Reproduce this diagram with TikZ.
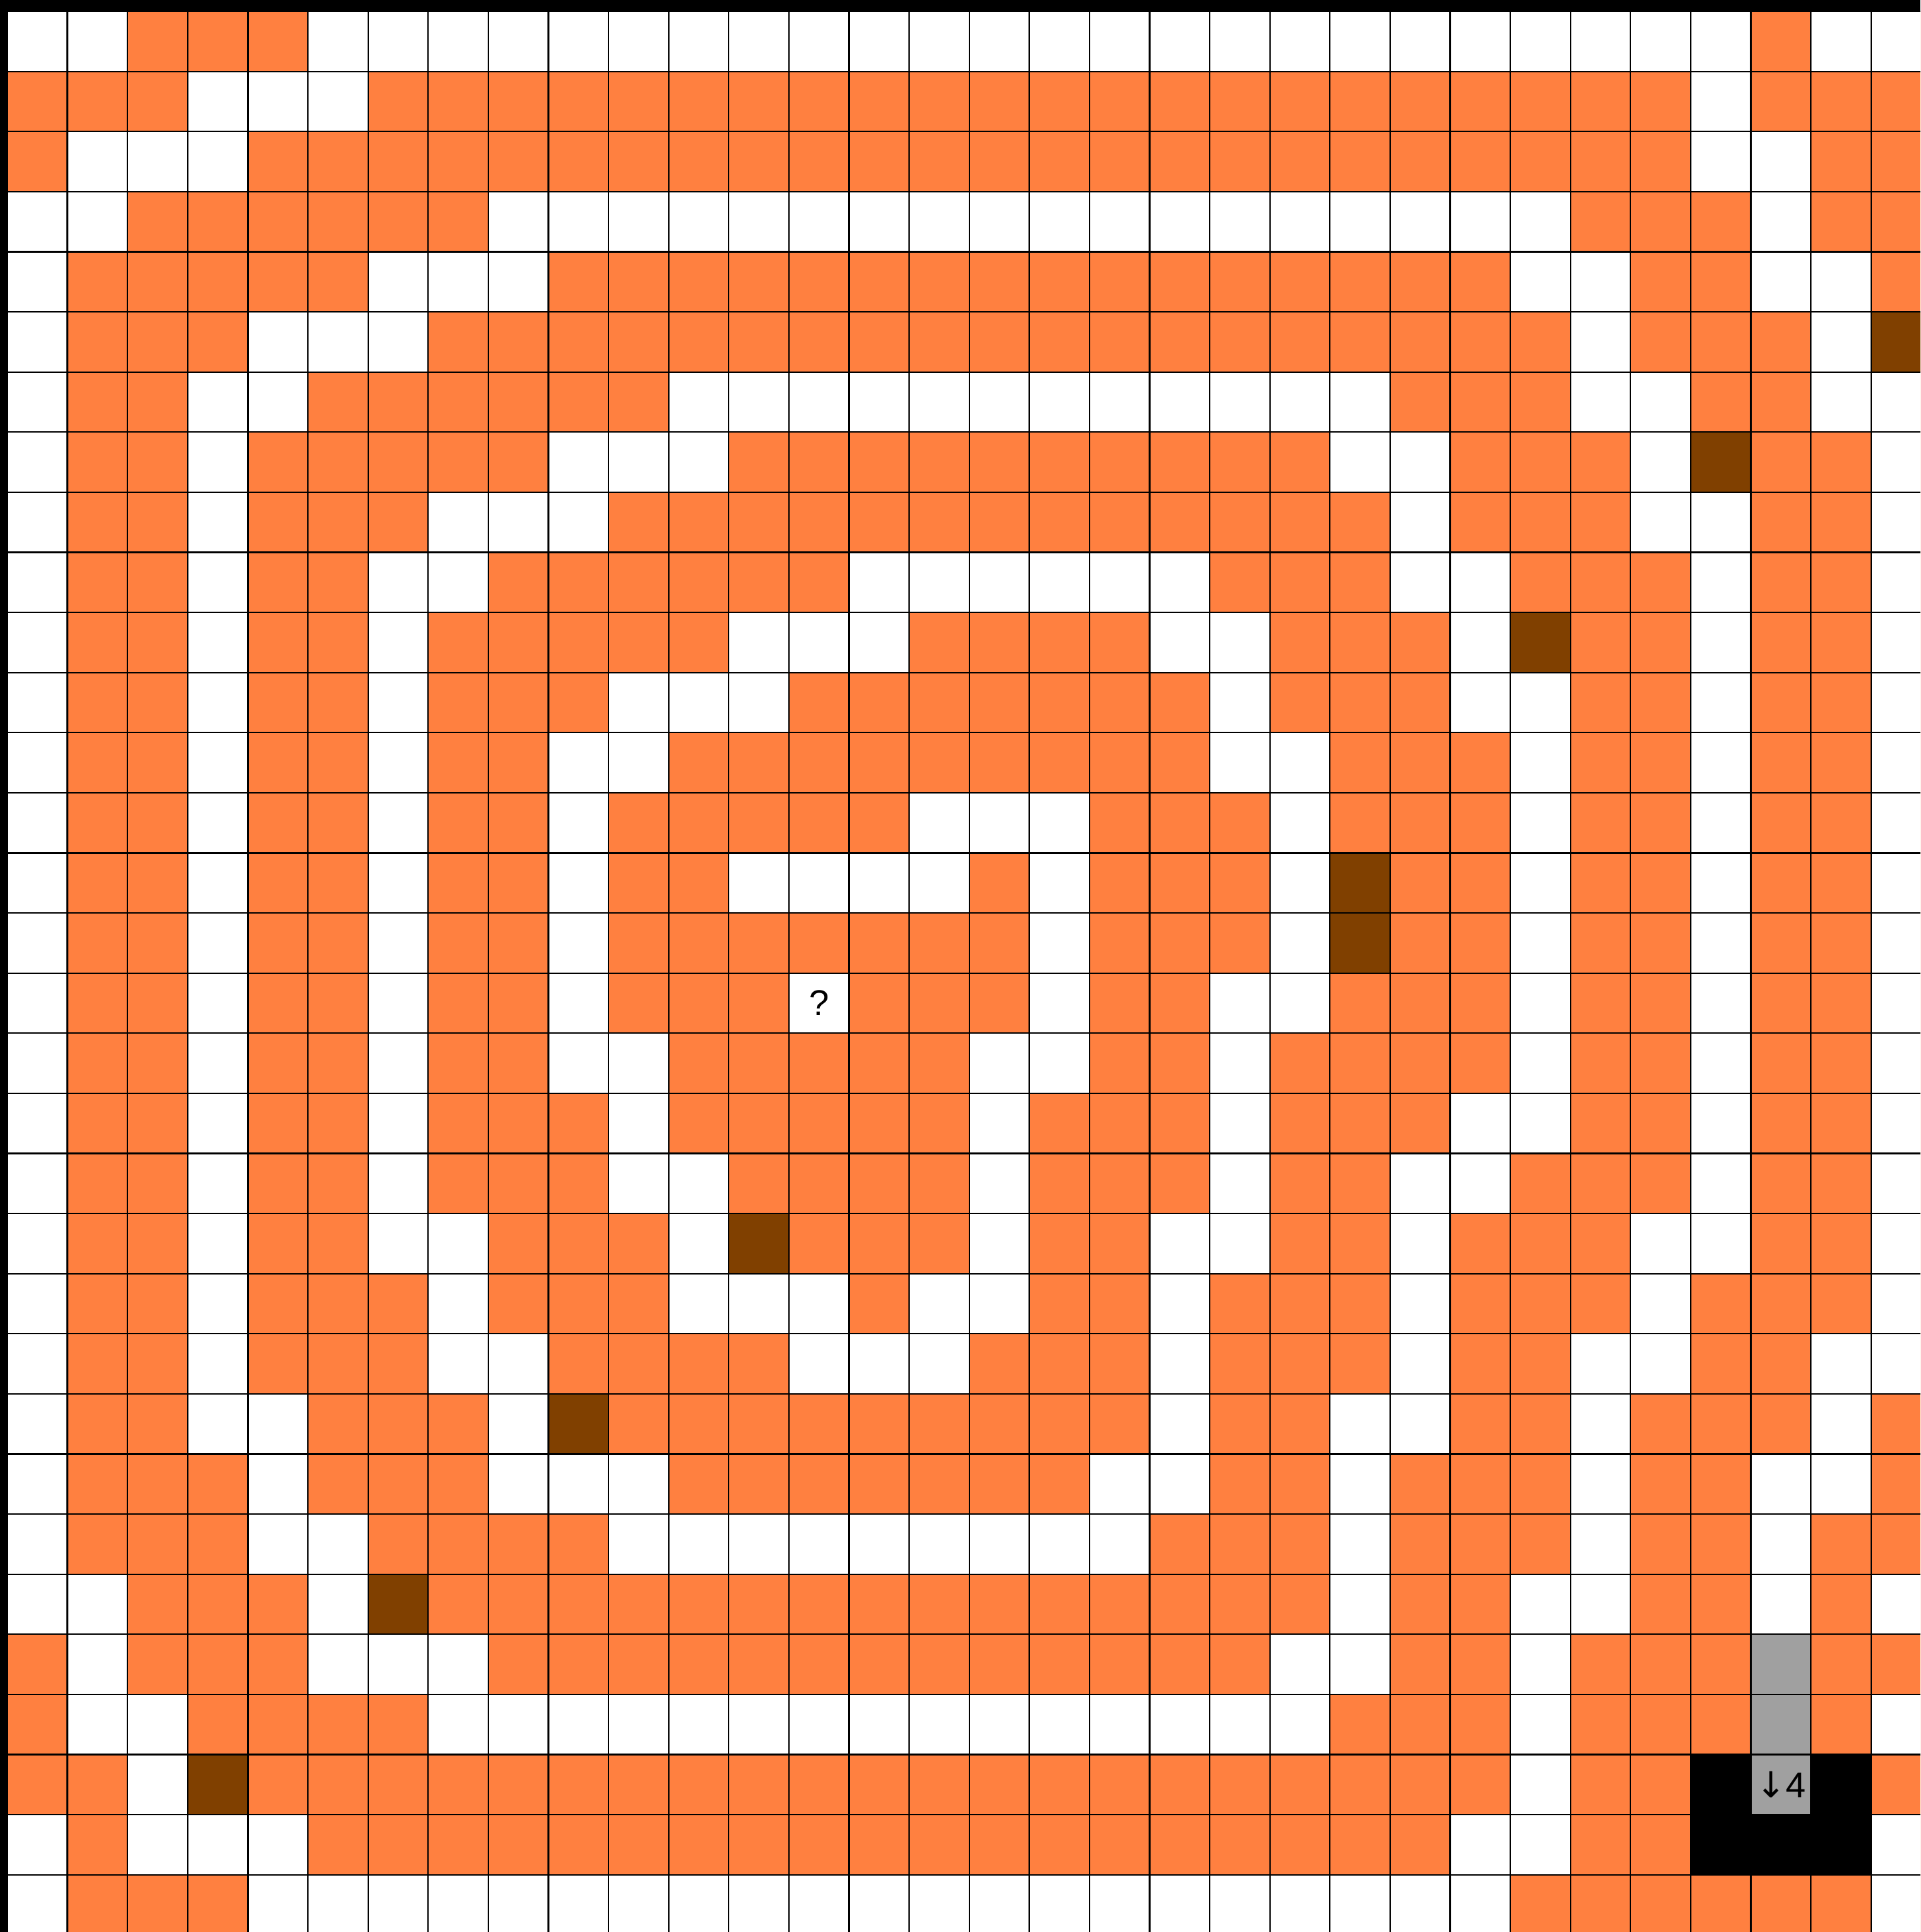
\documentclass[tikz,border=0pt]{standalone}
\usepackage{fontspec}
\setmainfont{Liberation Sans}
\newfontfamily\arrowfont{DejaVu Sans}
\definecolor{MazeOrange}{HTML}{FF8040}
\definecolor{MazeBrown}{HTML}{804000}
\definecolor{MazeGray}{HTML}{A0A0A0}
\usepackage{tikz}
\tikzset{
  wall/.style={fill=MazeOrange},
  free/.style={fill=white},
  rock/.style={fill=MazeBrown},
  trail/.style={fill=MazeGray},
  pit/.style={fill=black},
  gridline/.style={draw=black, line width=0.35pt},
  celltext/.style={font=\fontsize{8.5}{10}\selectfont, inner sep=0pt, text=black}
}

\begin{document}
\begin{tikzpicture}[x=0.5cm, y=-0.5cm]
    \useasboundingbox (-0.1214,-0.1876) rectangle (31.822,31.953);
    \clip (-0.1214,-0.1876) rectangle (31.822,31.953);
    \fill[wall] (0,0) rectangle (32,32);
    \foreach \r/\cols in {
      0/{0,1,5,6,...,28,30,31},
      1/{3,4,5,28},
      2/{1,2,3,28,29},
      3/{0,1,8,9,...,25,29},
      4/{0,6,7,8,25,26,29,30},
      5/{0,4,5,6,26,30},
      6/{0,3,4,11,12,...,22,26,27,30,31},
      7/{0,3,9,10,11,22,23,27,31},
      8/{0,3,7,8,9,23,27,28,31},
      9/{0,3,6,7,14,15,...,19,23,24,28,31},
      10/{0,3,6,12,13,14,19,20,24,28,31},
      11/{0,3,6,10,11,12,20,24,25,28,31},
      12/{0,3,6,9,10,20,21,25,28,31},
      13/{0,3,6,9,15,16,17,21,25,28,31},
      14/{0,3,6,9,12,13,14,15,17,21,25,28,31},
      15/{0,3,6,9,17,21,25,28,31},
      16/{0,3,6,9,13,17,20,21,25,28,31},
      17/{0,3,6,9,10,16,17,20,25,28,31},
      18/{0,3,6,10,16,20,24,25,28,31},
      19/{0,3,6,10,11,16,20,23,24,28,31},
      20/{0,3,6,7,11,16,19,20,23,27,28,31},
      21/{0,3,7,11,12,13,15,16,19,23,27,31},
      22/{0,3,7,8,13,14,15,19,23,26,27,30,31},
      23/{0,3,4,8,19,22,23,26,30},
      24/{0,4,8,9,10,18,19,22,26,29,30},
      25/{0,4,5,10,11,...,18,22,26,29},
      26/{0,1,5,22,25,26,29,31},
      27/{1,5,6,7,21,22,25},
      28/{1,2,7,8,...,21,25,31},
      29/{2,25},
      30/{0,2,3,4,24,25,31},
      31/{0,4,5,...,24,31}} {
      \foreach \c in \cols {
        \fill[free] (\c,\r) rectangle ++(1,1);
      }
    }
    \foreach \c/\r in {31/5, 28/7, 25/10, 22/14, 22/15, 12/20, 9/23, 6/26, 3/29}
      \fill[rock] (\c,\r) rectangle ++(1,1);
    \fill[pit] (28,29) rectangle (31,31);
    \foreach \r in {27,28,29}
      \fill[trail] (29,\r) rectangle ++(1,1);
    \foreach \i in {0,...,32} {
      \draw[gridline] (\i,0) -- (\i,32);
      \draw[gridline] (0,\i) -- (32,\i);
    }
    \fill[black] (-0.1214,-0.1876) rectangle (31.822,0);
    \fill[black] (-0.1214,-0.1876) rectangle (0,31.953);
    \node[celltext] (query) at (13.5,16.5) {?};
    \node[celltext] (depth) at (29.5,29.5) {{\arrowfont ↓}4};
  \end{tikzpicture}
\end{document}
